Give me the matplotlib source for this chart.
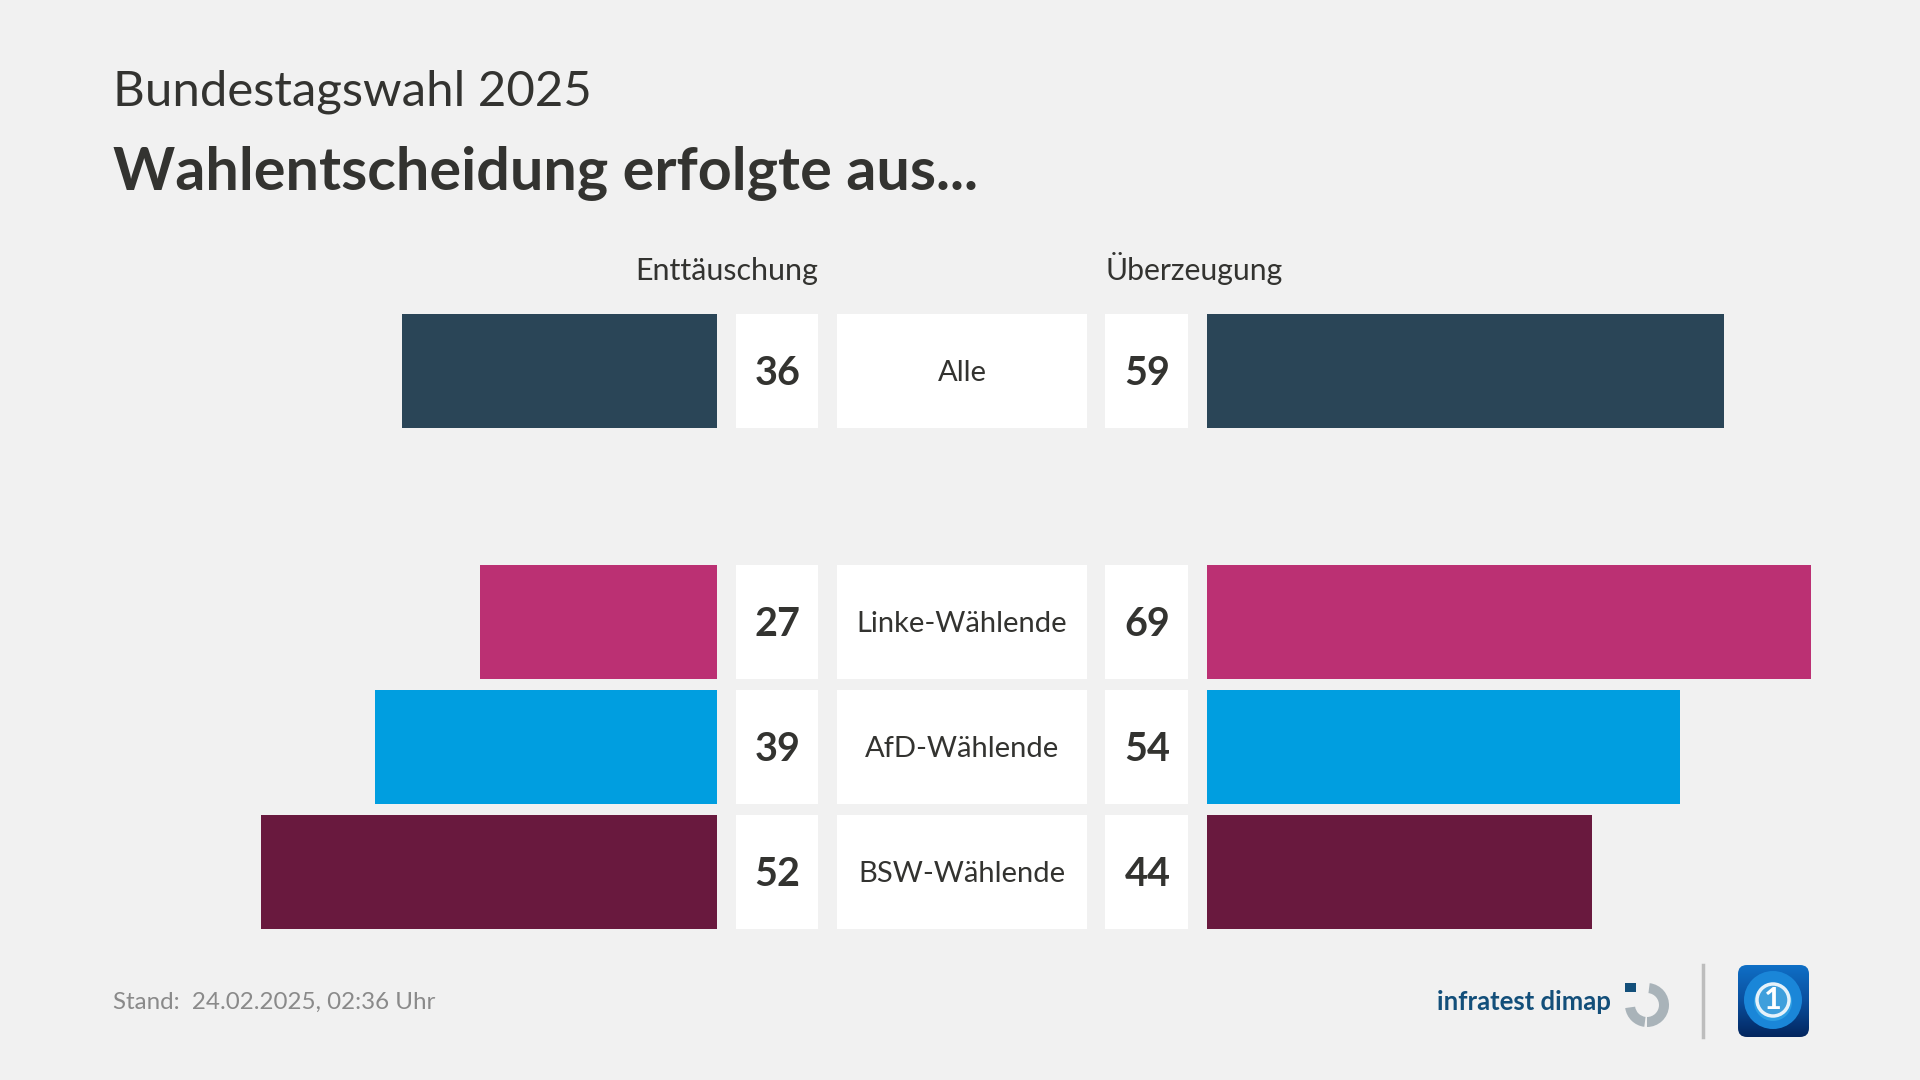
import matplotlib
matplotlib.use("Agg")
import matplotlib.pyplot as plt
import numpy as np
from matplotlib.patches import Rectangle, Circle, Wedge, FancyBboxPatch

categories = ["Alle", "Linke-Wählende", "AfD-Wählende", "BSW-Wählende"]
enttaeuschung = [36, 27, 39, 52]
ueberzeugung = [59, 69, 54, 44]
colors = ["#2a4557", "#bb3073", "#009ee0", "#69193e"]
row_top = [314, 565, 690, 815]

BG = "#f1f1f1"
DARK = "#333330"
plt.rcParams["font.family"] = ["Lato", "DejaVu Sans"]

fig = plt.figure(figsize=(19.2, 10.8), dpi=100, facecolor=BG)
ax = fig.add_axes([0, 0, 1, 1])
ax.set_xlim(0, 1920)
ax.set_ylim(1080, 0)
ax.axis("off")

# one percent is about 8.76 px on the screen
scale = 8.76
bar_h = 114
left_base = 717
right_base = 1207

ax.barh([t + bar_h / 2 for t in row_top], [-v * scale for v in enttaeuschung],
        left=left_base, height=bar_h, color=colors)
ax.barh([t + bar_h / 2 for t in row_top], [v * scale for v in ueberzeugung],
        left=right_base, height=bar_h, color=colors)

for i, cat in enumerate(categories):
    y = row_top[i]
    for x0, w in [(736, 82), (837, 250), (1105, 83)]:
        ax.add_patch(Rectangle((x0, y), w, bar_h, color="white", lw=0))
    base = y + 67
    ax.text(777.5, base + 4, str(enttaeuschung[i]), ha="center", va="baseline", fontsize=28.5, fontweight="bold", color=DARK)
    ax.text(1147.5, base + 4, str(ueberzeugung[i]), ha="center", va="baseline", fontsize=28.5, fontweight="bold", color=DARK)
    ax.text(962, base, cat, ha="center", va="baseline", fontsize=21, color=DARK)

ax.text(113, 105, "Bundestagswahl 2025", fontsize=35.4, color=DARK, va="baseline")
ax.text(113, 190, "Wahlentscheidung erfolgte aus...", fontsize=42.7, fontweight="bold", color=DARK, va="baseline")
ax.text(818, 280, "Enttäuschung", fontsize=22, color=DARK, ha="right", va="baseline")
ax.text(1105, 280, "Überzeugung", fontsize=21.7, color=DARK, ha="left", va="baseline")
ax.text(113, 1009, "Stand:  24.02.2025, 02:36 Uhr", fontsize=17.4, color="#8a8a8a", va="baseline")

# infratest dimap logo
ax.text(1611, 1010, "infratest dimap", fontsize=18.5, fontweight="bold", color="#134f7a", ha="right", va="baseline")
ax.add_patch(Wedge((1647, 1005), 22, -83, 90, width=10, color="#a9b3b9", lw=0))
ax.add_patch(Wedge((1647, 1005), 22, 97, 172, width=10, color="#a9b3b9", lw=0))
ax.add_patch(Rectangle((1625, 983), 11, 9, color="#134f7a", lw=0))
ax.plot([1702.5, 1702.5], [965, 1037], color="#bdbdbd", lw=2.5)

# tagesschau tile
tile = FancyBboxPatch((1738, 965), 71, 72, boxstyle="round,pad=0,rounding_size=9", fc="none", ec="none")
ax.add_patch(tile)
grad = np.linspace(0, 1, 64).reshape(-1, 1)
img = ax.imshow(grad, extent=(1738, 1809, 1037, 965), cmap=matplotlib.colors.LinearSegmentedColormap.from_list(
    "tile", ["#0f6fc6", "#0a4f9e", "#03265f"]), aspect="auto", zorder=2)
img.set_clip_path(tile)
ax.add_patch(Circle((1773, 1000), 29, color="#1a86d8", lw=0, zorder=3))
ax.add_patch(Circle((1773, 1002), 19, color="#2f9fe4", lw=0, zorder=3))
ax.add_patch(Circle((1773, 1000), 16, fc="#3f9fdc", ec="#e6f2fa", lw=2.5, zorder=4))
ax.text(1773, 1000, "1", fontsize=22, fontweight="bold", color="white", ha="center", va="center", zorder=5)
ax.set_xlim(0, 1920)
ax.set_ylim(1080, 0)

fig.savefig("out.png", dpi=100, facecolor=BG)
